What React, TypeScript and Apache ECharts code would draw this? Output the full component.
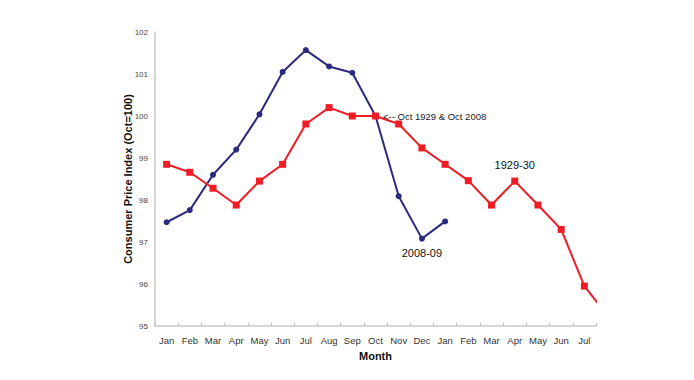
import React, { useEffect, useRef } from "react";
import * as echarts from "echarts";

const months = ["Jan", "Feb", "Mar", "Apr", "May", "Jun", "Jul", "Aug", "Sep", "Oct", "Nov", "Dec", "Jan", "Feb", "Mar", "Apr", "May", "Jun", "Jul"];
const cpi2008 = [97.47, 97.76, 98.6, 99.2, 100.04, 101.05, 101.57, 101.18, 101.03, 100.0, 98.09, 97.08, 97.49];
// last value (Aug 1930) lies past the axis end and is clipped
const cpi1929 = [98.85, 98.66, 98.28, 97.88, 98.45, 98.85, 99.81, 100.2, 100.0, 100.0, 99.81, 99.24, 98.85, 98.46, 97.88, 98.45, 97.88, 97.3, 95.95, 95.25];
const yTicks = { min: 95, max: 102, interval: 1 };

export default function App() {
  const ref = useRef<HTMLDivElement>(null);
  useEffect(() => {
    const chart = echarts.init(ref.current!, null, { renderer: "svg" });
    const font = "'Liberation Sans', Arial, sans-serif";
    chart.setOption({
      animation: false,
      textStyle: { fontFamily: font },
      grid: { left: 155, right: 98, top: 32, bottom: 54 },
      xAxis: {
        type: "category",
        data: months,
        max: months.length - 1,
        boundaryGap: true,
        name: "Month",
        nameLocation: "middle",
        nameGap: 24,
        nameMoveOverlap: false,
        nameTextStyle: { fontFamily: font, fontWeight: "bold", fontSize: 11, color: "#111" },
        axisLine: { lineStyle: { color: "#c8c8c8", width: 1.5 } },
        axisTick: { show: true, inside: true, length: 3, lineStyle: { color: "#bbb" } },
        axisLabel: { fontFamily: font, fontSize: 9.5, color: "#333", margin: 9, interval: 0 },
      },
      yAxis: {
        type: "value",
        min: yTicks.min,
        max: yTicks.max,
        interval: yTicks.interval,
        name: "Consumer Price Index (Oct=100)",
        nameLocation: "middle",
        nameGap: 22,
        nameMoveOverlap: false,
        nameTextStyle: { fontFamily: font, fontWeight: "bold", fontSize: 11, color: "#111" },
        axisLine: { show: true, lineStyle: { color: "#c8c8c8", width: 1.5 } },
        axisTick: { show: false },
        splitLine: { show: false },
        axisLabel: { fontFamily: font, fontSize: 8, color: "#444", margin: 7 },
      },
      series: [
        {
          name: "2008-09",
          type: "line",
          data: cpi2008.map((v, i) =>
            i === 11
              ? { value: v, label: { show: true, position: "bottom", distance: 6, formatter: "2008-09", fontFamily: font, fontSize: 11, color: "#111" } }
              : v
          ),
          symbol: "circle",
          symbolSize: 6,
          lineStyle: { color: "#2B2A7E", width: 2 },
          itemStyle: { color: "#2B2A7E" },
          z: 2,
        },
        {
          name: "1929-30",
          type: "line",
          clip: true,
          data: cpi1929.map((v, i) => {
            if (i === 9)
              return { value: v, label: { show: true, position: "right", distance: 4, formatter: "<-- Oct 1929 & Oct 2008", fontFamily: font, fontSize: 9.5, color: "#222" } };
            if (i === 15)
              return { value: v, label: { show: true, position: "top", distance: 7, formatter: "1929-30", fontFamily: font, fontSize: 11, color: "#111" } };
            return v;
          }),
          symbol: "rect",
          symbolSize: 7,
          lineStyle: { color: "#EE1C25", width: 2 },
          itemStyle: { color: "#EE1C25" },
          z: 3,
        },
      ],
    });
    return () => chart.dispose();
  }, []);
  return <div ref={ref} style={{ width: 694, height: 380, position: "absolute", left: 0, top: 0, background: "#fff" }} />;
}
